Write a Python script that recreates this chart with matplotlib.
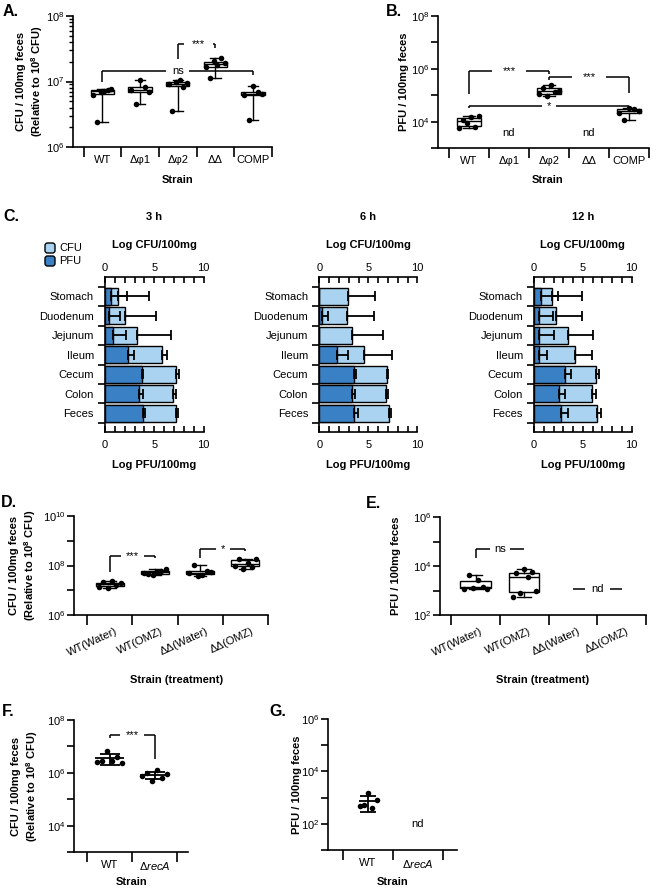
import numpy as np
import matplotlib
matplotlib.use('Agg')
import matplotlib.pyplot as plt
from matplotlib.patches import FancyBboxPatch
from matplotlib.ticker import FixedLocator, NullFormatter, FixedFormatter, LogLocator, NullLocator

plt.rcParams['font.family'] = ['Liberation Sans', 'DejaVu Sans']
plt.rcParams['mathtext.fontset'] = 'custom'
plt.rcParams['mathtext.rm'] = 'Liberation Sans'
plt.rcParams['mathtext.it'] = 'Liberation Sans:italic'
plt.rcParams['mathtext.bf'] = 'Liberation Sans:bold'
plt.rcParams['font.size'] = 8
plt.rcParams['axes.linewidth'] = 1.2

# ---------------- data ----------------
strains_A = ['WT', 'Δφ1', 'Δφ2', 'ΔΔ', 'COMP']
cfu_A = [
    [6.3e6, 2.4e6, 6.9e6, 7.2e6, 7.4e6, 7.7e6],
    [7.4e6, 4.5e6, 1.05e7, 8.1e6, 6.9e6],
    [9.0e6, 3.6e6, 1.0e7, 1.05e7, 8.3e6, 9.5e6],
    [1.65e7, 1.15e7, 2.05e7, 1.8e7, 2.25e7, 1.9e7],
    [6.2e6, 2.6e6, 8.6e6, 6.8e6, 6.5e6],
]
pfu_B_pos = [0, 2, 4]
pfu_B = [
    [5.6e3, 1.2e4, 8.7e3, 1.45e4, 6.0e3, 1.7e4],
    [1.1e5, 1.9e5, 9e4, 2.4e5, 1.3e5, 1.5e5],
    [2.1e4, 1.15e4, 3.2e4, 2.9e4, 2.5e4],
]
nd_B_pos = [1, 3]

organs = ['Stomach', 'Duodenum', 'Jejunum', 'Ileum', 'Cecum', 'Colon', 'Feces']
times = ['3 h', '6 h', '12 h']
cfu_3h = [1.33, 2.04, 3.27, 5.82, 7.18, 6.87, 7.18]
cfu_3h_err = [3.17, 3.13, 3.43, 0.44, 0.32, 0.31, 0.20]
pfu_3h = [0.65, 0.41, 0.82, 2.31, 3.71, 3.47, 3.88]
pfu_3h_err = [1.63, 1.15, 1.36, 0.65, 0.17, 0.41, 0.22]
cfu_6h = [2.96, 2.86, 3.37, 4.56, 6.94, 6.80, 7.11]
cfu_6h_err = [2.72, 2.72, 3.16, 2.82, 0.10, 0.20, 0.17]
pfu_6h = [0.0, 0.24, 0.0, 1.77, 3.57, 3.37, 3.57]
pfu_6h_err = [0.0, 0.68, 0.0, 1.12, 0.17, 0.27, 0.34]
cfu_12h = [1.88, 2.25, 3.52, 4.20, 6.31, 5.97, 6.42]
cfu_12h_err = [3.07, 2.63, 2.55, 1.70, 0.38, 0.38, 0.41]
pfu_12h = [0.72, 0.51, 0.51, 0.48, 3.17, 2.53, 2.76]
pfu_12h_err = [1.70, 1.40, 1.54, 0.82, 0.62, 0.64, 0.69]

treat = ['WT(Water)', 'WT(OMZ)', 'ΔΔ(Water)', 'ΔΔ(OMZ)']
cfu_D = [
    [1.4e7, 2.1e7, 1.2e7, 2.3e7, 1.6e7, 1.9e7],
    [5.0e7, 4.6e7, 4.0e7, 5.5e7, 6.2e7, 7.0e7],
    [4.9e7, 1.05e8, 3.6e7, 4.3e7, 6.0e7, 5.5e7],
    [1.0e8, 1.9e8, 7.0e7, 1.25e8, 9.0e7, 1.8e8],
]
pfu_E = [
    [1.2e3, 4.3e3, 1.3e3, 2.8e3, 1.4e3, 1.15e3],
    [5.6e2, 5.0e3, 8.0e2, 7.3e3, 3.7e3, 5.8e3, 9.5e2],
]
nd_E_level = 1.15e3

strains_F = ['WT', r'$\Delta\mathit{recA}$']
cfu_F = [
    [2.5e6, 2.9e6, 6.5e6, 2.7e6, 4.0e6, 2.3e6],
    [7.5e5, 1.0e6, 4.8e5, 1.25e6, 6.5e5, 9e5],
]
pfu_G_wt = [4.7e2, 5.0e2, 1.5e3, 4.0e2, 7.8e2]

# ---------------- layout helpers ----------------
W, H = 660, 889
fig = plt.figure(figsize=(6.6, 8.89), dpi=100)


def axpx(l, t, r, b):
    ax = fig.add_axes([l / W, 1 - b / H, (r - l) / W, (b - t) / H])
    ax._px = (l, t, r, b)
    return ax


def label_pos(ax, xlab_cx=None, xlab_top=None, ylab_right=None):
    l, t, r, b = ax._px
    if xlab_cx is not None:
        ax.xaxis.set_label_coords((xlab_cx - l) / (r - l), (b - xlab_top) / (b - t))
    if ylab_right is not None:
        ax.yaxis.set_label_coords((ylab_right - l) / (r - l), 0.5)


def cat_axes(ax, ncat, xlim, ylim, major_exp, labeled_exp, labels, minor_log=False,
             label_shift=0.0, xpad=6):
    ax.set_yscale('log')
    ax.set_xlim(*xlim)
    ax.set_ylim(*ylim)
    ax.spines['top'].set_visible(False)
    ax.spines['right'].set_visible(False)
    ax.xaxis.set_major_locator(FixedLocator(np.arange(ncat + 1) - 0.5))
    ax.xaxis.set_major_formatter(NullFormatter())
    ax.xaxis.set_minor_locator(FixedLocator(np.arange(ncat) + label_shift))
    ax.xaxis.set_minor_formatter(FixedFormatter(labels))
    ax.tick_params(axis='x', which='major', length=7, width=1.2)
    ax.tick_params(axis='x', which='minor', length=0, pad=xpad, labelsize=8)
    ax.yaxis.set_major_locator(FixedLocator([10.0 ** e for e in major_exp]))
    ax.yaxis.set_major_formatter(FixedFormatter(
        [r'$10^{%d}$' % e if e in labeled_exp else '' for e in major_exp]))
    if minor_log:
        ax.yaxis.set_minor_locator(LogLocator(base=10, subs=np.arange(2, 10)))
    else:
        ax.yaxis.set_minor_locator(NullLocator())
    ax.yaxis.set_minor_formatter(NullFormatter())
    ax.tick_params(axis='y', which='major', length=5, width=1.2, labelsize=8, pad=1.2)
    ax.tick_params(axis='y', which='minor', length=3, width=1)


def boxes(ax, data, positions, w=0.62):
    ax.boxplot(data, positions=positions, widths=w, whis=(0, 100), showfliers=False,
               patch_artist=True, manage_ticks=False,
               boxprops=dict(facecolor='white', edgecolor='black', linewidth=1),
               medianprops=dict(color='black', linewidth=1),
               whiskerprops=dict(color='black', linewidth=1),
               capprops=dict(color='black', linewidth=1), capwidths=0.28)
    for p, vals in zip(positions, data):
        xs = p + np.linspace(-0.24, 0.24, len(vals))
        ax.scatter(xs, vals, s=16, color='black', zorder=3, linewidths=0)


def bracket(ax, x1, x2, y, y1, y2, text, xt, gap, fs=8):
    kw = dict(color='black', lw=1.1, clip_on=False, solid_capstyle='butt')
    ax.plot([x1, xt - gap], [y, y], **kw)
    ax.plot([xt + gap, x2], [y, y], **kw)
    if y1 is not None:
        ax.plot([x1, x1], [y, y1], **kw)
    if y2 is not None:
        ax.plot([x2, x2], [y, y2], **kw)
    ax.text(xt, y, text, ha='center', va='center', fontsize=fs)


def mean_sd(ax, pos, vals, half_line, jw, cap):
    vals = np.asarray(vals)
    m = vals.mean()
    sd = vals.std(ddof=1)
    xs = pos + np.linspace(-jw, jw, len(vals))
    ax.scatter(xs, vals, s=16, color='black', zorder=3, linewidths=0)
    ax.hlines(m, pos - half_line, pos + half_line, color='black', lw=1.3, zorder=4)
    ax.errorbar([pos], [m], yerr=[[sd], [sd]], fmt='none', ecolor='black',
                elinewidth=1.3, capsize=cap, capthick=1.3, zorder=4)


# ---------------- Panel A ----------------
axA = axpx(73, 16, 272, 147)
cat_axes(axA, 5, (-0.78, 4.5), (1e6, 1e8), [6, 7, 8], [6, 7, 8], strains_A, minor_log=True)
boxes(axA, cfu_A, range(5))
bracket(axA, 0, 4, 1.45e7, 1.0e7, 1.25e7, 'ns', 2, 0.3)
bracket(axA, 2, 3, 3.7e7, 2.2e7, 3.2e7, '***', 2.55, 0.38)
axA.set_ylabel('CFU / 100mg feces\n' + r'(Relative to 10$^{\mathbf{8}}$ CFU)',
               fontweight='bold', fontsize=8, linespacing=1.3)
axA.set_xlabel('Strain', fontweight='bold', fontsize=8)
label_pos(axA, 178, 175, 45)

# ---------------- Panel B ----------------
axB = axpx(438, 16, 649, 148)
cat_axes(axB, 5, (-0.775, 4.5), (1e3, 1e8), [3, 4, 5, 6, 7, 8], [4, 6, 8], strains_A)
boxes(axB, pfu_B, pfu_B_pos)
for p in nd_B_pos:
    axB.text(p, 3.8e3, 'nd', ha='center', va='center', fontsize=8)
bracket(axB, 0, 2, 8e5, 1.1e5, 6.5e5, '***', 1, 0.42)
bracket(axB, 2, 4, 4.7e5, 3.8e5, 1.2e5, '***', 3, 0.42)
bracket(axB, 0, 4, 4e4, 3.3e4, 3.4e4, '*', 2, 0.18)
axB.set_ylabel('PFU / 100mg feces', fontweight='bold', fontsize=8)
axB.set_xlabel('Strain', fontweight='bold', fontsize=8)
label_pos(axB, 548, 175, 409)

# ---------------- Panel C ----------------
light = '#a9d3f0'
dark = '#3a80c4'
c_data = [(cfu_3h, cfu_3h_err, pfu_3h, pfu_3h_err),
          (cfu_6h, cfu_6h_err, pfu_6h, pfu_6h_err),
          (cfu_12h, cfu_12h_err, pfu_12h, pfu_12h_err)]
c_lefts = [(105, 203.5), (319.3, 417.3), (534, 631.7)]
ctop, cbot = 277, 432
for (l, r), tlabel, (cfu, cfe, pfu, pfe) in zip(c_lefts, times, c_data):
    ax = axpx(l, ctop, r, cbot)
    y = np.arange(len(organs))
    ax.barh(y, cfu, height=0.88, color=light, edgecolor='black', linewidth=1, zorder=2)
    ax.barh(y, pfu, height=0.88, color=dark, edgecolor='black', linewidth=1, zorder=3)
    cfu = np.asarray(cfu); cfe = np.asarray(cfe)
    pfu = np.asarray(pfu); pfe = np.asarray(pfe)
    ax.errorbar(cfu, y, xerr=[np.zeros_like(cfe), cfe], fmt='none', ecolor='black',
                elinewidth=1.3, capsize=3.5, capthick=1.3, zorder=4)
    m = pfe > 0
    ax.errorbar(pfu[m], y[m], xerr=[np.zeros(m.sum()), pfe[m]], fmt='none', ecolor='black',
                elinewidth=1.3, capsize=3.5, capthick=1.3, zorder=4)
    ax.set_xlim(0, 10)
    ax.set_ylim(6.97, -1.0)
    ax.spines['right'].set_visible(False)
    ax.spines['top'].set_visible(False)
    ax.xaxis.set_major_locator(FixedLocator([0, 5, 10]))
    ax.xaxis.set_minor_locator(FixedLocator(np.arange(11)))
    ax.tick_params(axis='x', which='both', direction='in', length=4, width=1.2,
                   labelsize=8, pad=6)
    sec = ax.secondary_xaxis('top')
    sec.spines['top'].set_linewidth(1.2)
    sec.xaxis.set_major_locator(FixedLocator([0, 5, 10]))
    sec.xaxis.set_minor_locator(FixedLocator(np.arange(11)))
    sec.tick_params(axis='x', which='both', direction='in', length=4, width=1.2,
                    labelsize=8, pad=3)
    ax.yaxis.set_major_locator(FixedLocator(np.arange(len(organs) + 1) - 0.5))
    ax.yaxis.set_major_formatter(NullFormatter())
    ax.yaxis.set_minor_locator(FixedLocator(y))
    ax.yaxis.set_minor_formatter(FixedFormatter(organs))
    ax.tick_params(axis='y', which='major', length=5, width=1.2)
    ax.tick_params(axis='y', which='minor', length=0, pad=8, labelsize=8)
    cx = (l + r) / 2
    fig.text(cx / W, 1 - 217 / H, tlabel, ha='center', va='center', fontweight='bold', fontsize=8)
    fig.text(cx / W, 1 - 245 / H, 'Log CFU/100mg', ha='center', va='center', fontweight='bold', fontsize=8)
    fig.text(cx / W, 1 - 465 / H, 'Log PFU/100mg', ha='center', va='center', fontweight='bold', fontsize=8)

# legend for C
for (yt, col, txt) in [(243, light, 'CFU'), (256, dark, 'PFU')]:
    p = FancyBboxPatch((45 / 100, (H - yt - 10) / 100), 0.10, 0.10,
                       boxstyle='round,pad=0,rounding_size=0.025',
                       transform=fig.dpi_scale_trans, facecolor=col, edgecolor='black', lw=1)
    fig.add_artist(p)
    fig.text(59 / W, 1 - (yt + 5) / H, txt, ha='left', va='center', fontsize=8)

# ---------------- Panel D ----------------
axD = axpx(74, 516, 268, 615)
cat_axes(axD, 4, (-0.79, 3.5), (1e6, 1e10), [6, 7, 8, 9, 10], [6, 8, 10], treat,
         label_shift=0.16, xpad=11)
boxes(axD, cfu_D, range(4))
bracket(axD, 0, 1, 2.4e8, 5.4e7, 2.0e8, '***', 0.5, 0.25)
bracket(axD, 2, 3, 4.8e8, 2.0e8, 3.9e8, '*', 2.5, 0.16)
axD.set_ylabel('CFU / 100mg feces\n' + r'(Relative to 10$^{\mathbf{8}}$ CFU)',
               fontweight='bold', fontsize=8, linespacing=1.3)
axD.set_xlabel('Strain (treatment)', fontweight='bold', fontsize=8)
label_pos(axD, 177, 675, 38)

# ---------------- Panel E ----------------
axE = axpx(440, 517, 646, 615)
cat_axes(axE, 4, (-0.73, 3.5), (1e2, 1e6), [2, 3, 4, 5, 6], [2, 4, 6], treat,
         label_shift=0.13, xpad=11)
boxes(axE, pfu_E, range(2))
bracket(axE, 0, 1, 4.8e4, 2.2e4, None, 'ns', 0.5, 0.2)
bracket(axE, 2, 3, nd_E_level, None, None, 'nd', 2.5, 0.26)
axE.set_ylabel('PFU / 100mg feces', fontweight='bold', fontsize=8)
axE.set_xlabel('Strain (treatment)', fontweight='bold', fontsize=8)
label_pos(axE, 543, 675, 401)

for ax in (axD, axE):
    for lab in ax.get_xticklabels(minor=True):
        lab.set_rotation(25)
        lab.set_ha('right')
        lab.set_rotation_mode('anchor')
        lab.set_va('center')

# ---------------- Panel F ----------------
axF = axpx(74, 720, 188, 852)
cat_axes(axF, 2, (-0.79, 1.74), (1e3, 1e8), [3, 4, 5, 6, 7, 8], [4, 6, 8], strains_F)
for i, vals in enumerate(cfu_F):
    mean_sd(axF, i, vals, 0.33, 0.28, 7)
bracket(axF, 0, 1, 2.6e7, 2.1e7, 3.4e6, '***', 0.5, 0.26)
axF.set_ylabel('CFU / 100mg feces\n' + r'(Relative to 10$^{\mathbf{8}}$ CFU)',
               fontweight='bold', fontsize=8, linespacing=1.3)
axF.set_xlabel('Strain', fontweight='bold', fontsize=8)
label_pos(axF, 132, 877, 40)

# ---------------- Panel G ----------------
axG = axpx(328, 719, 457, 850)
cat_axes(axG, 2, (-0.8, 1.78), (1e1, 1e6), [1, 2, 3, 4, 5, 6], [2, 4, 6], strains_F)
mean_sd(axG, 0, pfu_G_wt, 0.18, 0.17, 6)
axG.text(1, 1e2, 'nd', ha='center', va='center', fontsize=8)
axG.set_ylabel('PFU / 100mg feces', fontweight='bold', fontsize=8)
axG.set_xlabel('Strain', fontweight='bold', fontsize=8)
label_pos(axG, 393, 877, 302)

# ---------------- panel letters ----------------
for (x, yb, s) in [(3, 16, 'A.'), (386, 16, 'B.'), (3, 221, 'C.'), (1, 507, 'D.'),
                   (366, 508, 'E.'), (2, 716, 'F.'), (269, 716, 'G.')]:
    fig.text(x / W, 1 - yb / H, s, ha='left', va='baseline', fontsize=11.5, fontweight='bold')

fig.savefig('out.png', dpi=100, facecolor='white')
